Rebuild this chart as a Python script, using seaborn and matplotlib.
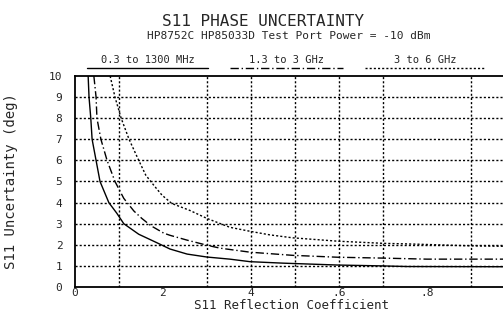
import matplotlib
matplotlib.use("Agg")
import matplotlib.pyplot as plt
from matplotlib.lines import Line2D
import seaborn as sns
import pandas as pd

# curves: reflection coefficient vs phase uncertainty (deg)
x_low = [0.030, 0.032, 0.036, 0.039, 0.048, 0.057, 0.077, 0.095, 0.111, 0.145,
         0.186, 0.216, 0.255, 0.30, 0.352, 0.398, 0.473, 0.598, 0.698, 0.755, 0.973]
y_low = [10, 9, 8, 7, 6, 5, 4, 3.5, 3.0, 2.5,
         2.1, 1.8, 1.56, 1.42, 1.32, 1.2, 1.13, 1.04, 1.0, 0.97, 0.96]

x_mid = [0.043, 0.048, 0.050, 0.059, 0.073, 0.091, 0.111, 0.134, 0.152, 0.173, 0.202,
         0.216, 0.255, 0.30, 0.33, 0.398, 0.443, 0.495, 0.598, 0.698, 0.80, 0.973]
y_mid = [10, 9, 8, 7, 6, 5, 4.2, 3.6, 3.25, 2.9, 2.55,
         2.45, 2.22, 1.98, 1.84, 1.65, 1.58, 1.5, 1.41, 1.37, 1.32, 1.32]

x_high = [0.080, 0.091, 0.105, 0.123, 0.145, 0.161, 0.180, 0.198, 0.220, 0.261,
          0.30, 0.352, 0.398, 0.443, 0.495, 0.598, 0.70, 0.777, 0.898, 0.973]
y_high = [10, 9, 8, 7, 6, 5.3, 4.8, 4.35, 3.96, 3.63,
          3.25, 2.83, 2.64, 2.47, 2.33, 2.17, 2.07, 2.03, 1.95, 1.93]

band_labels = ["0.3 to 1300 MHz", "1.3 to 3 GHz", "3 to 6 GHz"]
x_ticks = [0, 0.2, 0.4, 0.6, 0.8]
x_tick_labels = ["0", "2", "4", ".6", ".8"]
x_grid = [0.1, 0.3, 0.4, 0.5, 0.6, 0.7, 0.9]
y_ticks = list(range(0, 11))

styles = ["-", (0, (6, 2, 1, 2)), (0, (1.5, 1.5))]

frames = []
for lab, xs, ys in zip(band_labels, [x_low, x_mid, x_high], [y_low, y_mid, y_high]):
    frames.append(pd.DataFrame({"refl": xs, "unc": ys, "band": lab}))
df = pd.concat(frames, ignore_index=True)

sns.set_style("white")
plt.rcParams["font.family"] = ["DejaVu Sans Mono", "DejaVu Sans"]

W, H = 503, 314
fig = plt.figure(figsize=(W / 100, H / 100), dpi=100)
ax = fig.add_axes([0.149, 0.086, 0.851, 0.672])

for lab, ls in zip(band_labels, styles):
    sns.lineplot(data=df[df["band"] == lab], x="refl", y="unc", ax=ax,
                 color="black", lw=1.0, linestyle=ls, sort=False,
                 legend=False, estimator=None)

for g in x_grid:
    ax.axvline(g, color="black", lw=1.0, linestyle=(0, (1.5, 1.5)), zorder=0)
for g in y_ticks[1:-1]:
    ax.axhline(g, color="black", lw=1.0, linestyle=(0, (1.5, 1.5)), zorder=0)

ax.set_xlim(0, 0.973)
ax.set_ylim(0, 10)
ax.set_xticks(x_ticks)
ax.set_xticklabels(x_tick_labels, fontsize=8)
ax.set_yticks(y_ticks)
ax.set_yticklabels([str(v) for v in y_ticks], fontsize=8)
ax.tick_params(axis="y", length=0, pad=9)
ax.tick_params(axis="x", length=0, pad=1)
for side in ["left", "top", "bottom"]:
    ax.spines[side].set_color("black")
    ax.spines[side].set_linewidth(1.3)
ax.spines["right"].set_visible(False)

ax.set_xlabel("S11 Reflection Coefficient", fontsize=9)
ax.xaxis.set_label_coords(0.507, -0.058)
ax.xaxis.label.set_va("top")
ax.set_ylabel("S11 Uncertainty (deg)", fontsize=10, labelpad=22)

fig.text(0.522, 1 - 21 / H, "S11 PHASE UNCERTAINTY", ha="center", va="center", fontsize=11.5)
fig.text(0.575, 1 - 36 / H, "HP8752C HP85033D Test Port Power = -10 dBm",
         ha="center", va="center", fontsize=8)

# legend: label text with a sample of the line style underneath
leg_spans = [(87, 208), (230, 343), (365, 485)]
for lab, ls, (x0, x1) in zip(band_labels, styles, leg_spans):
    fig.text((x0 + x1) / 2 / W, 1 - 60 / H, lab, ha="center", va="center", fontsize=7.5)
    fig.add_artist(Line2D([x0 / W, x1 / W], [1 - 68 / H, 1 - 68 / H],
                          transform=fig.transFigure, color="black", lw=1.0, linestyle=ls))

fig.savefig("out.png", dpi=100)
